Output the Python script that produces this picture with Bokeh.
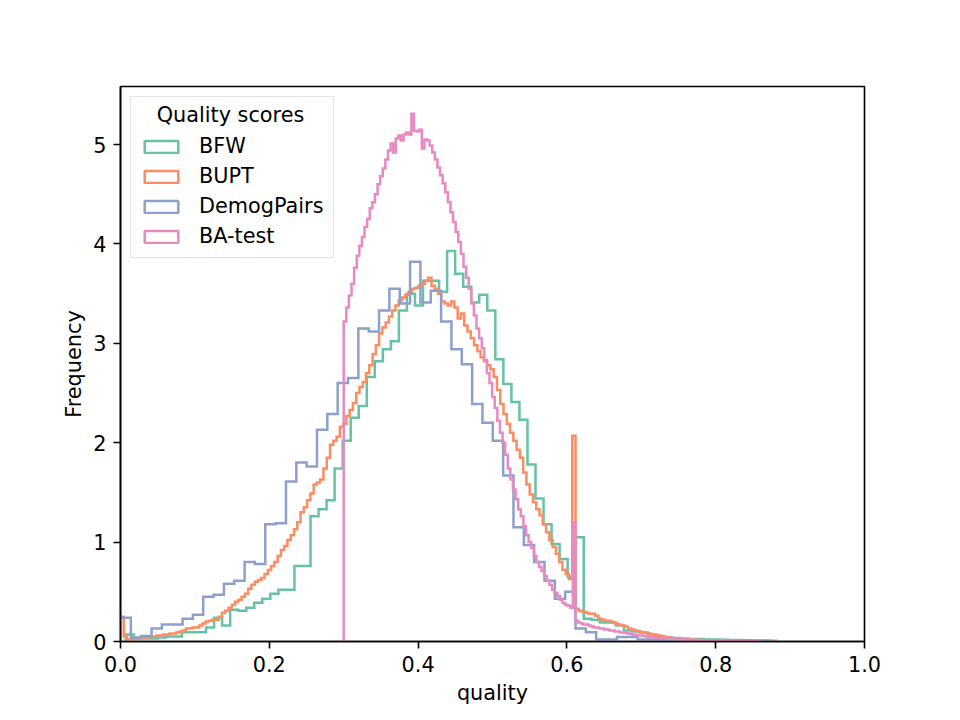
import numpy as np
from bokeh.plotting import figure
from bokeh.models import Range1d, FixedTicker, NumeralTickFormatter, Legend, LegendItem, Label, ColumnDataSource
from bokeh.embed import file_html
from bokeh.resources import INLINE

# ---------------- data (density histograms) ----------------
series_names = ["BFW", "BUPT", "DemogPairs", "BA-test"]
series_colors = ["#66c2a5", "#fc8d62", "#8da0cb", "#e78ac3"]
legend_title = "Quality scores"

bfw_start = 0.007
bfw_width = 0.0108
bfw_density = [
    0.07, 0.03, 0.03, 0.03, 0.04, 0.05, 0.05, 0.094, 0.094, 0.094,
    0.14, 0.24, 0.16, 0.32, 0.31, 0.34, 0.39, 0.43, 0.48, 0.52,
    0.52, 0.76, 0.76, 1.26, 1.33, 1.42, 1.74, 2.02, 2.25, 2.37,
    2.66, 2.82, 2.94, 3.02, 3.33, 3.50, 3.38, 3.63, 3.63, 3.52,
    3.93, 3.70, 3.57, 3.41, 3.49, 3.33, 2.84, 2.59, 2.41, 2.23,
    1.78, 1.44, 1.18, 0.98, 0.83, 0.65, 1.05, 0.23, 0.22, 0.19,
    0.19, 0.16, 0.11, 0.10, 0.09, 0.07, 0.05, 0.04, 0.035, 0.03,
    0.025, 0.025, 0.02, 0.02, 0.018, 0.015, 0.015, 0.012, 0.01, 0.01,
    0.008,
]

bupt_start = 0.0
bupt_width = 0.0044
bupt_density = [
    0.25, 0.05, 0.02, 0.02, 0.03, 0.03, 0.04, 0.04, 0.04, 0.05,
    0.05, 0.06, 0.06, 0.07, 0.07, 0.08, 0.08, 0.09, 0.10, 0.11,
    0.13, 0.13, 0.14, 0.14, 0.16, 0.18, 0.20, 0.21, 0.22, 0.22,
    0.25, 0.29, 0.31, 0.34, 0.37, 0.40, 0.42, 0.45, 0.48, 0.53,
    0.57, 0.60, 0.62, 0.64, 0.68, 0.72, 0.76, 0.80, 0.86, 0.92,
    0.96, 1.02, 1.07, 1.13, 1.20, 1.30, 1.35, 1.42, 1.49, 1.58,
    1.60, 1.63, 1.74, 1.85, 1.98, 2.02, 2.06, 2.16, 2.19, 2.27,
    2.33, 2.40, 2.50, 2.56, 2.61, 2.70, 2.78, 2.89, 2.98, 3.10,
    3.16, 3.21, 3.27, 3.33, 3.38, 3.43, 3.46, 3.49, 3.52, 3.55,
    3.56, 3.58, 3.60, 3.63, 3.66, 3.58, 3.55, 3.50, 3.42, 3.40,
    3.38, 3.42, 3.36, 3.25, 3.30, 3.18, 3.12, 3.05, 2.98, 2.92,
    2.86, 2.82, 2.78, 2.74, 2.66, 2.53, 2.39, 2.29, 2.19, 2.10,
    2.02, 1.93, 1.85, 1.70, 1.58, 1.48, 1.40, 1.33, 1.27, 1.18,
    1.10, 1.02, 0.95, 0.88, 0.80, 0.72, 0.68, 0.63, 2.07, 0.33,
    0.31, 0.30, 0.29, 0.28, 0.28, 0.26, 0.23, 0.22, 0.21, 0.21,
    0.19, 0.18, 0.17, 0.16, 0.15, 0.13, 0.12, 0.11, 0.10, 0.09,
    0.085, 0.08, 0.07, 0.065, 0.06, 0.05, 0.045, 0.04, 0.035, 0.03,
    0.025, 0.025, 0.02, 0.02, 0.018, 0.016, 0.015, 0.014, 0.012, 0.012,
    0.011, 0.01, 0.01, 0.009, 0.009, 0.008, 0.008, 0.007, 0.007, 0.006,
    0.006, 0.006, 0.005, 0.005, 0.005, 0.004, 0.004, 0.004, 0.003, 0.003,
]

demog_start = 0.0
demog_width = 0.0139
demog_density = [
    0.24, 0.04, 0.055, 0.13, 0.17, 0.17, 0.23, 0.27, 0.45, 0.47,
    0.58, 0.61, 0.80, 0.78, 1.18, 1.19, 1.61, 1.80, 1.76, 2.13,
    2.29, 2.60, 2.65, 3.15, 3.12, 3.33, 3.55, 3.40, 3.82, 3.41,
    3.53, 3.22, 2.94, 2.79, 2.39, 2.20, 2.02, 1.67, 1.15, 0.97,
    0.80, 0.61, 0.43, 0.50, 0.13, 0.094, 0.02, 0.02, 0.045, 0.045,
    0.02, 0.02, 0.015, 0.012, 0.012, 0.01, 0.01, 0.008, 0.008, 0.006,
    0.006, 0.004, 0.004,
]

ba_start = 0.3
ba_width = 0.0035
ba_density = [
    3.22, 3.36, 3.48, 3.60, 3.76, 3.88, 3.98, 4.07, 4.17, 4.25,
    4.36, 4.42, 4.50, 4.60, 4.68, 4.76, 4.85, 4.94, 5.01, 4.92,
    5.06, 5.09, 5.04, 5.10, 5.12, 5.10, 5.31, 5.14, 5.13, 5.15,
    4.96, 5.05, 5.04, 4.99, 4.92, 4.85, 4.77, 4.69, 4.61, 4.52,
    4.42, 4.32, 4.22, 4.12, 4.02, 3.90, 3.77, 3.66, 3.55, 3.40,
    3.28, 3.15, 3.05, 2.95, 2.83, 2.70, 2.60, 2.46, 2.35, 2.22,
    2.10, 2.00, 1.88, 1.74, 1.63, 1.53, 1.43, 1.33, 1.26, 1.16,
    1.07, 1.00, 0.94, 0.86, 0.80, 0.75, 0.71, 0.66, 0.61, 0.57,
    0.52, 0.49, 0.46, 0.42, 0.39, 0.37, 0.36, 0.34, 1.20, 0.21,
    0.19, 0.18, 0.17, 0.17, 0.16, 0.15, 0.14, 0.14, 0.13, 0.13,
    0.12, 0.12, 0.11, 0.11, 0.10, 0.10, 0.09, 0.09, 0.085, 0.08,
    0.075, 0.07, 0.065, 0.06, 0.06, 0.055, 0.05, 0.045, 0.043, 0.04,
    0.038, 0.035, 0.032, 0.03, 0.028, 0.026, 0.025, 0.023, 0.022, 0.02,
    0.019, 0.018, 0.018, 0.017, 0.016, 0.015, 0.015, 0.014, 0.013, 0.013,
    0.012, 0.012, 0.011, 0.011, 0.01, 0.01, 0.009, 0.009, 0.008, 0.008,
    0.008, 0.007, 0.007, 0.007, 0.006, 0.006, 0.006, 0.005, 0.005, 0.005,
]

x_ticks = [0.0, 0.2, 0.4, 0.6, 0.8, 1.0]
y_ticks = [0, 1, 2, 3, 4, 5]

series = [
    (bfw_start, bfw_width, bfw_density),
    (bupt_start, bupt_width, bupt_density),
    (demog_start, demog_width, demog_density),
    (ba_start, ba_width, ba_density),
]


def step_outline(start, width, dens):
    dens = np.asarray(dens, dtype=float)
    edges = start + width * np.arange(len(dens) + 1)
    xs = np.concatenate([[edges[0]], np.repeat(edges, 2)[1:-1], [edges[-1]]])
    ys = np.concatenate([[0.0], np.repeat(dens, 2), [0.0]])
    return xs, ys


FONT = "DejaVu Sans"
FS = "20.8px"
LW = 2.5

p = figure(
    frame_width=744, frame_height=555,
    x_range=Range1d(0, 1), y_range=Range1d(0, 5.584),
    output_backend="svg", toolbar_location=None,
    min_border_left=120, min_border_right=96, min_border_top=86, min_border_bottom=79,
    background_fill_color="white", border_fill_color="white",
)
p.xgrid.visible = False
p.ygrid.visible = False
p.outline_line_color = "black"
p.outline_line_width = 1.6
p.outline_line_alpha = 1.0

for (start, width, dens), color in zip(series, series_colors):
    xs, ys = step_outline(start, width, dens)
    p.line(xs, ys, line_color=color, line_width=LW, line_join="miter")

# legend proxies: one unplotted (NaN) row each, so only the legend swatch is drawn
legend_items = []
for name, color in zip(series_names, series_colors):
    src = ColumnDataSource(data=dict(x=[float("nan")], y=[float("nan")]))
    r = p.rect(x="x", y="y", width=0.1, height=0.1, source=src, fill_color=None,
               line_color=color, line_width=LW)
    legend_items.append(LegendItem(label=name, renderers=[r]))

p.xaxis.ticker = FixedTicker(ticks=x_ticks)
p.xaxis.formatter = NumeralTickFormatter(format="0.0")
p.yaxis.ticker = FixedTicker(ticks=y_ticks)
p.xaxis.axis_label = "quality"
p.yaxis.axis_label = "Frequency"

for ax in (p.xaxis[0], p.yaxis[0]):
    ax.axis_line_color = "black"
    ax.axis_line_width = 1.6
    ax.major_tick_line_color = "black"
    ax.major_tick_line_width = 1.6
    ax.major_tick_out = 7
    ax.major_tick_in = 0
    ax.minor_tick_out = 0
    ax.minor_tick_in = 0
    ax.major_label_text_font = FONT
    ax.major_label_text_font_size = FS
    ax.major_label_text_color = "black"
    ax.major_label_standoff = 7
    ax.axis_label_text_font = FONT
    ax.axis_label_text_font_size = FS
    ax.axis_label_text_font_style = "normal"
    ax.axis_label_text_color = "black"
p.xaxis[0].axis_label_standoff = 6
p.yaxis[0].axis_label_standoff = 4

legend = Legend(
    items=legend_items, location="top_left", title=" ",
    title_text_font=FONT, title_text_font_size=FS, title_text_font_style="normal",
    title_text_color="black", title_standoff=4,
    label_text_font=FONT, label_text_font_size=FS, label_text_color="black",
    glyph_width=42, glyph_height=15, label_standoff=17, label_height=20,
    spacing=6, padding=9, margin=10,
    border_line_color="#cccccc", border_line_width=1.5,
    background_fill_color="white", background_fill_alpha=0.0,
)
p.add_layout(legend)

title_label = Label(
    x=110, y=527, x_units="screen", y_units="screen", text=legend_title,
    text_align="center", text_baseline="middle",
    text_font=FONT, text_font_size=FS, text_color="black",
)
p.add_layout(title_label)

open("out.html", "w").write(file_html(p, INLINE))
